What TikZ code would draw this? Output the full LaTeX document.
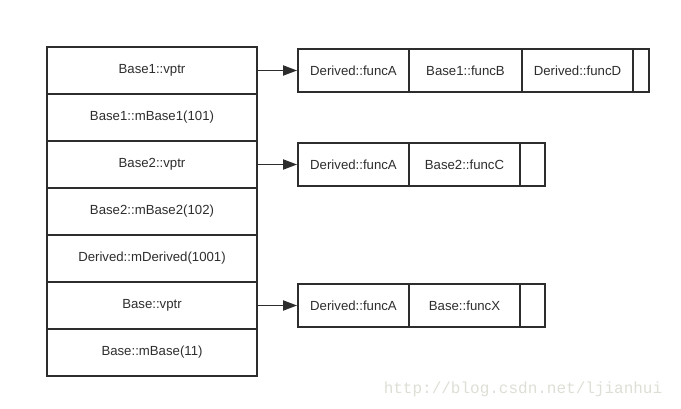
\documentclass[tikz,border=0pt]{standalone}
\usepackage{fontspec}
\setmainfont{Liberation Sans}
\newfontfamily\markfont{Liberation Mono}
\usetikzlibrary{arrows.meta}
\definecolor{linegray}{RGB}{45,45,45}
\definecolor{markgray}{RGB}{222,222,214}

\begin{document}
\begin{tikzpicture}[x=1pt,y=-1pt,
    line width=1.8pt,draw=linegray,
    every node/.style={font=\fontsize{13.2}{15}\selectfont,text=linegray},
    slot/.style={draw,minimum width=210pt,minimum height=47pt,inner sep=0pt},
    cell/.style={draw,minimum height=43pt,inner sep=0pt},
    ptr/.style={-{Triangle[length=14pt,width=10pt]}}]
\useasboundingbox (0,0) rectangle (681,409);

\node [slot]                    (b1vptr)   at (152, 70.5) {Base1::vptr};
\node [slot]                    (b1mem)    at (152,117.5) {Base1::mBase1(101)};
\node [slot]                    (b2vptr)   at (152,164.5) {Base2::vptr};
\node [slot]                    (b2mem)    at (152,211.5) {Base2::mBase2(102)};
\node [slot]                    (dmem)     at (152,258.5) {Derived::mDerived(1001)};
\node [slot]                    (bvptr)    at (152,305.5) {Base::vptr};
\node [slot]                    (bmem)     at (152,352.5) {Base::mBase(11)};

\node [cell,minimum width=111pt] (vtaA)    at (353.5, 70.5) {Derived::funcA};
\node [cell,minimum width=113pt] (vtaB)    at (465.5, 70.5) {Base1::funcB};
\node [cell,minimum width=111pt] (vtaD)    at (577.5, 70.5) {Derived::funcD};
\node [cell,minimum width=16pt]  (vtaEnd)  at (641, 70.5) {};

\node [cell,minimum width=111pt] (vtbA)    at (353.5,164.5) {Derived::funcA};
\node [cell,minimum width=111pt] (vtbC)    at (464.5,164.5) {Base2::funcC};
\node [cell,minimum width=25pt]  (vtbEnd)  at (532.5,164.5) {};

\node [cell,minimum width=111pt] (vtcA)    at (353.5,305.5) {Derived::funcA};
\node [cell,minimum width=111pt] (vtcX)    at (464.5,305.5) {Base::funcX};
\node [cell,minimum width=25pt]  (vtcEnd)  at (532.5,305.5) {};

\node [text=markgray,font=\markfont\fontsize{16}{18}\selectfont]
                                (mark)     at (523,389) {http://blog.csdn.net/ljianhui};

\draw [ptr] (b1vptr) -- (vtaA);
\draw [ptr] (b2vptr) -- (vtbA);
\draw [ptr] (bvptr)  -- (vtcA);
\end{tikzpicture}
\end{document}
